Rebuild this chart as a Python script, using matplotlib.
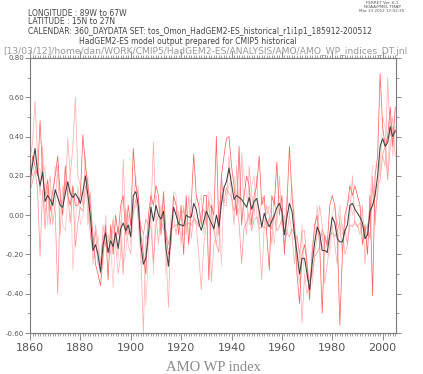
import numpy as np
import matplotlib
matplotlib.use("Agg")
import matplotlib.pyplot as plt
from matplotlib.ticker import MultipleLocator

years = np.arange(1860, 2006)

# ensemble mean (black)
amo_mean = [
    0.18, 0.26, 0.34, 0.22, 0.15, 0.22, 0.07, 0.10, 0.08, 0.05,
    0.13, 0.09, 0.05, 0.04, 0.11, 0.17, 0.11, 0.09, 0.11, 0.09,
    0.06, 0.12, 0.20, 0.10, -0.01, -0.18, -0.15, -0.20, -0.29, -0.15,
    -0.09, -0.19, -0.13, -0.16, -0.09, -0.17, -0.07, -0.04, -0.08, -0.05,
    -0.11, 0.10, 0.12, 0.05, -0.15, -0.25, -0.22, -0.10, 0.04, -0.03,
    0.05, 0.00, -0.02, 0.02, -0.17, -0.26, -0.08, 0.04, 0.00, -0.045,
    -0.05, -0.055, 0.00, -0.01, -0.01, 0.06, 0.03, -0.04, -0.077, -0.03,
    0.02, -0.01, -0.04, -0.07, 0.00, -0.06, 0.06, 0.14, 0.17, 0.24,
    0.16, 0.08, 0.10, 0.09, 0.08, 0.06, 0.04, 0.09, 0.03, 0.07,
    0.085, 0.02, -0.06, 0.01, -0.03, -0.06, -0.03, 0.00, 0.04, 0.06,
    0.02, -0.10, -0.01, 0.06, 0.02, -0.10, -0.19, -0.30, -0.22, -0.22,
    -0.30, -0.38, -0.25, -0.14, -0.06, -0.09, -0.18, -0.18, -0.19, -0.10,
    -0.01, -0.04, -0.12, -0.136, -0.136, -0.08, -0.05, 0.05, 0.06, 0.03,
    0.01, -0.01, -0.04, -0.12, -0.10, 0.02, 0.05, 0.10, 0.20, 0.35,
    0.39, 0.35, 0.37, 0.45, 0.40, 0.43,
]

# ensemble members (red / pink)
amo_r1 = [
    0.10, 0.30, 0.25, 0.20, 0.48, 0.22, 0.10, 0.18, 0.02, 0.12,
    0.20, 0.30, 0.10, 0.00, 0.25, 0.10, 0.05, 0.15, 0.05, 0.05,
    0.10, 0.41, 0.25, 0.15, 0.05, -0.10, -0.25, -0.30, -0.36, -0.20,
    -0.05, -0.33, -0.05, -0.20, 0.00, -0.10, 0.05, 0.10, -0.10, 0.05,
    -0.05, 0.34, 0.15, 0.10, -0.10, -0.20, -0.30, 0.00, 0.10, 0.05,
    0.15, 0.10, -0.10, 0.12, -0.10, -0.20, -0.15, 0.10, 0.05, -0.10,
    0.05, -0.20, 0.10, -0.15, 0.05, 0.31, 0.10, 0.05, -0.05, 0.10,
    0.10, -0.33, 0.05, 0.00, 0.40, -0.10, 0.20, 0.30, 0.39, 0.40,
    0.25, 0.15, 0.00, 0.35, -0.05, 0.10, 0.20, 0.15, -0.05, 0.10,
    0.15, 0.30, 0.05, 0.10, -0.10, -0.28, 0.10, 0.05, 0.27, 0.00,
    0.10, -0.20, 0.05, 0.35, 0.10, -0.05, -0.30, -0.45, -0.20, -0.15,
    -0.25, -0.43, -0.20, -0.05, 0.00, -0.15, -0.50, -0.10, -0.15, 0.05,
    0.10, 0.05, -0.10, -0.56, -0.20, 0.00, 0.05, 0.15, 0.10, 0.15,
    0.10, 0.05, -0.15, -0.05, -0.20, 0.10, -0.41, 0.20, 0.30, 0.72,
    0.45, 0.35, 0.40, 0.55, 0.35, 0.55,
]
amo_r2 = [
    0.28, 0.37, 0.58, 0.30, 0.10, 0.35, 0.00, 0.12, 0.20, -0.05,
    0.05, 0.25, -0.10, 0.15, 0.10, 0.39, 0.20, 0.35, 0.60, 0.20,
    0.15, 0.05, 0.30, -0.05, 0.12, -0.25, -0.05, -0.15, -0.30, -0.05,
    -0.15, -0.10, -0.20, -0.05, -0.15, -0.30, -0.20, 0.285, -0.05, -0.15,
    -0.20, 0.05, 0.20, -0.05, -0.20, -0.60, -0.10, -0.15, 0.00, 0.37,
    0.00, -0.15, 0.05, -0.05, -0.20, -0.47, 0.00, 0.00, -0.10, 0.02,
    -0.15, 0.05, -0.10, 0.10, -0.12, 0.00, -0.05, -0.20, -0.38, -0.15,
    -0.05, 0.10, -0.34, -0.15, -0.10, 0.05, 0.10, 0.05, 0.05, 0.30,
    0.10, -0.05, 0.25, 0.05, 0.30, 0.00, -0.10, 0.25, 0.10, 0.00,
    0.20, -0.10, -0.33, -0.05, 0.05, 0.00, -0.15, 0.10, -0.05, 0.20,
    -0.05, 0.00, -0.10, 0.00, -0.10, -0.25, -0.10, -0.20, -0.55, -0.30,
    -0.40, -0.35, -0.35, -0.20, -0.10, 0.05, -0.05, -0.35, -0.25, -0.15,
    -0.05, -0.15, -0.25, 0.00, -0.05, -0.20, -0.15, 0.00, 0.20, -0.05,
    -0.05, -0.10, 0.05, -0.25, -0.05, 0.00, 0.20, 0.00, 0.10, 0.30,
    0.30, 0.25, 0.70, 0.40, 0.50, 0.30,
]
amo_r3 = [
    0.22, 0.20, 0.30, 0.25, 0.23, 0.18, 0.25, -0.05, 0.15, 0.05,
    0.25, 0.21, 0.12, -0.05, -0.08, 0.08, 0.23, -0.28, -0.05, 0.15,
    -0.05, 0.00, 0.10, 0.20, -0.10, -0.20, -0.22, -0.10, -0.25, -0.25,
    0.00, -0.20, -0.15, -0.37, -0.10, -0.22, -0.03, -0.25, -0.20, 0.00,
    -0.15, 0.00, 0.05, 0.15, -0.25, -0.10, -0.46, -0.20, 0.12, -0.30,
    0.10, 0.05, 0.00, 0.08, -0.30, -0.22, -0.10, 0.12, 0.10, -0.05,
    -0.10, -0.10, 0.05, 0.05, 0.08, -0.05, 0.10, 0.05, 0.10, -0.10,
    0.08, 0.12, 0.10, -0.05, -0.15, 0.00, -0.26, 0.15, 0.10, 0.15,
    0.20, 0.20, 0.10, 0.00, 0.315, 0.20, 0.10, -0.05, 0.15, 0.20,
    0.00, -0.05, 0.10, 0.05, 0.00, 0.05, 0.00, -0.15, 0.02, 0.10,
    0.05, -0.05, 0.10, 0.00, 0.15, 0.00, -0.25, -0.35, -0.05, -0.35,
    -0.30, -0.40, -0.15, -0.10, 0.05, -0.10, -0.10, -0.15, -0.20, -0.20,
    0.00, 0.05, -0.05, 0.05, -0.10, -0.05, 0.05, 0.10, 0.00, 0.05,
    0.05, 0.05, 0.00, -0.10, -0.10, 0.10, 0.25, 0.25, 0.25, 0.20,
    0.50, 0.45, 0.20, 0.50, 0.30, 0.45,
]
amo_r4 = [
    0.12, 0.17, 0.23, 0.13, -0.21, 0.13, -0.07, 0.15, -0.05, 0.08,
    0.02, -0.40, 0.08, 0.06, 0.17, 0.11, -0.04, 0.14, -0.16, -0.04,
    0.04, 0.02, 0.15, 0.10, -0.11, -0.17, -0.08, -0.25, -0.25, -0.10,
    -0.16, -0.13, -0.12, -0.02, -0.11, -0.06, -0.10, -0.30, 0.03, -0.10,
    -0.04, 0.01, 0.08, 0.00, -0.05, -0.10, -0.02, -0.05, -0.06, -0.24,
    -0.05, 0.00, -0.03, -0.07, -0.08, -0.15, -0.07, -0.06, -0.05, -0.05,
    0.00, 0.03, -0.05, -0.04, -0.05, -0.02, -0.03, -0.06, 0.02, 0.03,
    -0.05, 0.07, 0.03, -0.08, -0.15, -0.19, 0.20, 0.06, 0.14, 0.11,
    0.09, 0.02, 0.05, -0.04, -0.245, -0.06, -0.04, 0.01, -0.08, -0.02,
    -0.01, -0.07, -0.06, -0.06, -0.07, -0.01, -0.07, 0.00, -0.08, -0.06,
    -0.02, -0.15, -0.09, -0.11, -0.07, -0.10, -0.11, -0.20, -0.08, -0.08,
    -0.25, -0.34, -0.30, -0.21, -0.19, -0.16, -0.07, -0.12, -0.16, -0.10,
    -0.09, -0.11, -0.08, -0.034, -0.194, -0.07, -0.15, -0.05, -0.06, -0.03,
    -0.06, -0.04, -0.06, -0.08, -0.05, -0.12, 0.16, -0.05, 0.15, 0.18,
    0.31, 0.35, 0.18, 0.35, 0.45, 0.42,
]

members = [amo_r2, amo_r3, amo_r4, amo_r1]
member_colors = ['#ffb0b0', '#ffc6c6', '#ff9a9a', '#ff6464']

grey = '#7a7a7a'

fig = plt.figure(figsize=(4.23, 3.74), dpi=100)
ax = fig.add_axes([30/423, 1-333/374, 366/423, 275/374])

for vals, c in zip(members, member_colors):
    ax.plot(years, vals, color=c, lw=0.55)
ax.plot(years, amo_mean, color='#404040', lw=0.75)

ax.set_xlim(1860, 2005.3)
ax.set_ylim(-0.6, 0.8)

ax.xaxis.set_major_locator(MultipleLocator(20))
ax.xaxis.set_minor_locator(MultipleLocator(1))
ax.yaxis.set_minor_locator(MultipleLocator(0.1))
yt = np.arange(-0.6, 0.81, 0.2)
ax.set_yticks(yt)
ax.set_yticklabels(['%.2f' % v for v in yt])

ax.tick_params(axis='x', which='major', direction='out', length=5, width=0.6,
               color=grey, top=True, labelsize=8, labelcolor='#555555', pad=2)
ax.tick_params(axis='x', which='minor', direction='out', length=2.5, width=0.5,
               color=grey, top=True)
ax.tick_params(axis='y', which='major', direction='out', length=3.5, width=0.6,
               color=grey, right=True, labelsize=5, labelcolor='#555555', pad=1)
ax.tick_params(axis='y', which='minor', direction='out', length=2.5, width=0.5,
               color=grey, right=True)
for sp in ax.spines.values():
    sp.set_color(grey)
    sp.set_linewidth(0.8)

ax.set_xlabel('AMO WP index', family='Liberation Serif', fontsize=10.5,
              color='#8a8a8a', labelpad=6)

# header text
hdr = dict(fontsize=5.5, color='#444444', family='DejaVu Sans')
fig.text(28/423, 1-13/374, 'LONGITUDE : 89W to 67W', va='center', **hdr)
fig.text(28/423, 1-22/374, 'LATITUDE : 15N to 27N', va='center', **hdr)
fig.text(28/423, 1-31/374,
         'CALENDAR: 360_DAYDATA SET: tos_Omon_HadGEM2-ES_historical_r1i1p1_185912-200512',
         va='center', **hdr)
fig.text(188/423, 1-41.5/374, 'HadGEM2-ES model output prepared for CMIP5 historical',
         ha='center', va='center', **hdr)
fig.text(3/423, 1-52/374,
         '[13/03/12]/home/dan/WORK/CMIP5/HadGEM2-ES/ANALYSIS/AMO/AMO_WP_indices_DT.jnl',
         va='center', fontsize=6.6, color='#9a9a9a')
fig.text(382/423, 1-1/374, 'FERRET Ver. 6.1\nNOAA/PMEL TMAP\nMar 13 2012 17:02:35',
         ha='center', va='top', fontsize=3, color='#555555', linespacing=1.0)

fig.savefig('out.png', dpi=100)
